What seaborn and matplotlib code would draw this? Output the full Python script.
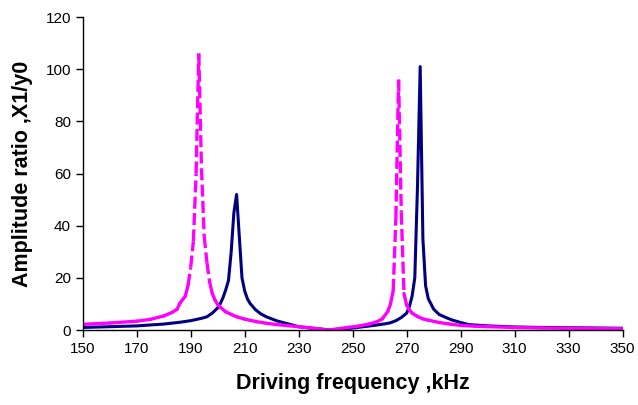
import matplotlib
matplotlib.use("Agg")
import matplotlib.pyplot as plt
import seaborn as sns
import pandas as pd

# Series 1 (navy, solid)
freq_navy = [150, 160, 170, 180, 186, 190, 194, 196, 198, 200, 201, 202, 203, 204, 205, 206, 207,
             208, 209, 210, 211, 212, 214, 216, 218, 222, 226, 230, 234, 238, 242, 246, 250, 254,
             258, 262, 264, 266, 268, 270, 271, 272, 273, 274, 275, 276, 277, 278, 280, 282, 285,
             287, 290, 293, 300, 310, 320, 330, 340, 350]
amp_navy = [1.0, 1.3, 1.6, 2.3, 3.0, 3.6, 4.5, 5.1, 6.5, 8.5, 10.2, 12.5, 15.5, 19, 30, 45, 52,
            36, 20, 15, 12, 10.2, 7.8, 6.2, 5.1, 3.5, 2.4, 1.3, 0.8, 0.4, 0.0, 0.4, 0.8, 1.3,
            1.8, 2.4, 2.8, 3.6, 4.8, 6.5, 9.0, 13, 20, 55, 101, 35, 17, 12, 8, 6, 4.6,
            3.8, 2.9, 2.1, 1.6, 1.2, 1.0, 0.9, 0.8, 0.7]

# Series 2 (magenta, dashed)
freq_mag = [150, 160, 170, 175, 180, 183, 185, 186, 188, 189, 190, 191, 192, 193, 194, 195, 196,
            197, 198, 199, 200, 201, 203, 205, 207, 210, 214, 218, 222, 226, 230, 234, 238, 241,
            244, 248, 252, 256, 259, 261, 263, 264, 265, 266, 267, 268, 269, 270, 271, 272, 274,
            276, 278, 282, 286, 290, 295, 300, 310, 320, 330, 340, 350]
amp_mag = [2.2, 2.7, 3.4, 4.1, 5.4, 6.7, 8.0, 10.3, 13, 17, 24, 34, 60, 106, 62, 36, 26,
           18.5, 14, 11.5, 9.8, 8.7, 7.0, 6.0, 5.1, 4.2, 3.3, 2.6, 2.1, 1.7, 1.3, 0.9, 0.4, 0.0,
           0.4, 1.0, 1.5, 2.3, 3.2, 4.3, 7.2, 10, 15, 43, 96, 45, 14, 9.5, 7.8, 6.5, 5.2,
           4.3, 3.8, 2.9, 2.3, 1.8, 1.5, 1.3, 1.0, 0.8, 0.7, 0.6, 0.5]

x_ticks = list(range(150, 351, 20))
y_ticks = list(range(0, 121, 20))

sns.set_style("ticks")
plt.rcParams['font.family'] = ['Liberation Sans', 'DejaVu Sans']

fig = plt.figure(figsize=(6.38, 4.05), dpi=100)
ax = fig.add_axes([0.1296, 0.185, 0.8464, 0.773])
ax.set_xlim(150, 350)
ax.set_ylim(0, 120)

df_navy = pd.DataFrame({"f": freq_navy, "a": amp_navy})
sns.lineplot(data=df_navy, x="f", y="a", ax=ax, color="#000080", linewidth=2.2,
             sort=False, estimator=None)

# Magenta: the dash pattern restarts on every segment (as in the source chart),
# so only the long, steep segments show visible gaps.
px_x = 540.0 / 200.0
px_y = 313.0 / 120.0
rows = []
for i in range(len(freq_mag) - 1):
    dx = (freq_mag[i + 1] - freq_mag[i]) * px_x
    dy = (amp_mag[i + 1] - amp_mag[i]) * px_y
    long_seg = "dash" if (dx * dx + dy * dy) ** 0.5 > 14 and abs(dy) > abs(dx) else "solid"
    for j in (i, i + 1):
        rows.append({"f": freq_mag[j], "a": amp_mag[j], "seg": i, "kind": long_seg})
df_mag = pd.DataFrame(rows)
sns.lineplot(data=df_mag, x="f", y="a", units="seg", style="kind", ax=ax,
             color="#FF00FF", linewidth=2.4, sort=False, estimator=None,
             dashes={"dash": (3.6, 1.3), "solid": ""}, legend=False)

ax.set_xticks(x_ticks)
ax.set_yticks(y_ticks)
ax.tick_params(axis='both', labelsize=11, length=5, width=1, color='black',
               labelcolor='black', direction='out')
ax.set_xlabel("Driving frequency ,kHz", fontsize=15.5, fontweight='bold', labelpad=12,
              color='black')
ax.set_ylabel("Amplitude ratio ,X1/y0", fontsize=15.5, fontweight='bold', labelpad=9,
              color='black')
for s in ['top', 'right']:
    ax.spines[s].set_visible(False)
for s in ['left', 'bottom']:
    ax.spines[s].set_color('black')
    ax.spines[s].set_linewidth(1)

fig.savefig("out.png", dpi=100)
